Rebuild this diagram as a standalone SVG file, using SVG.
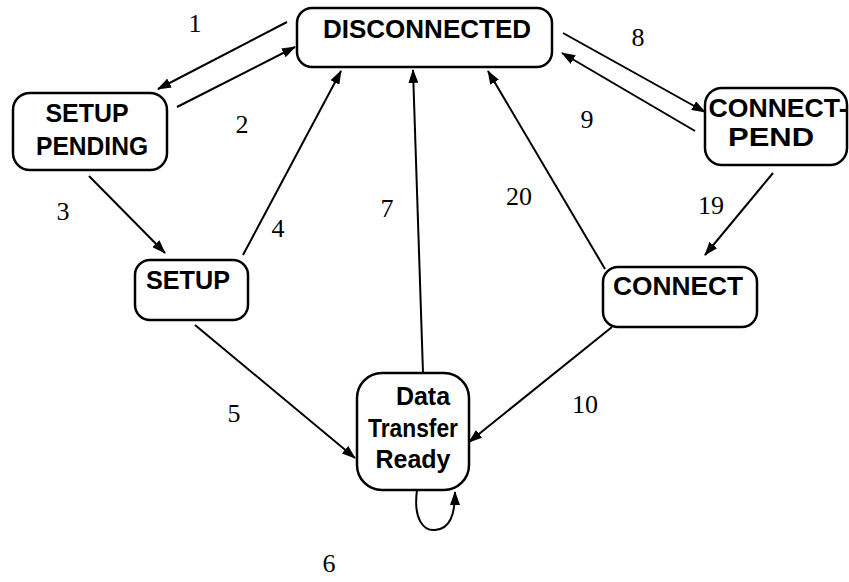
<svg xmlns="http://www.w3.org/2000/svg" width="849" height="582" viewBox="0 0 849 582">
<style>
.box{fill:#fff;stroke:#000;stroke-width:2.5}
.nt{font-family:"Liberation Sans",Arial,sans-serif;font-weight:bold;font-size:25px;text-anchor:middle;fill:#000}
.lb{font-family:"Liberation Serif","Times New Roman",serif;font-size:26px;text-anchor:middle;fill:#000}
.edge{fill:none;stroke:#000;stroke-width:2}
</style>
<defs>
<marker id="ah" viewBox="0 0 14 10" refX="13" refY="5" markerWidth="14" markerHeight="10" markerUnits="userSpaceOnUse" orient="auto">
<path d="M0,0 L14,5 L0,10 Z" fill="#000"/>
</marker>
</defs>
<g id="connectors">
<line class="edge" x1="287" y1="22" x2="158" y2="89" marker-end="url(#ah)"/>
<line class="edge" x1="177" y1="107" x2="295" y2="47" marker-end="url(#ah)"/>
<line class="edge" x1="89" y1="176" x2="165" y2="253" marker-end="url(#ah)"/>
<line class="edge" x1="243" y1="255" x2="341" y2="71" marker-end="url(#ah)"/>
<line class="edge" x1="423" y1="373" x2="413" y2="70" marker-end="url(#ah)"/>
<line class="edge" x1="605" y1="269" x2="488" y2="71" marker-end="url(#ah)"/>
<line class="edge" x1="563" y1="33" x2="705" y2="112" marker-end="url(#ah)"/>
<line class="edge" x1="695" y1="131" x2="562" y2="53" marker-end="url(#ah)"/>
<line class="edge" x1="773" y1="173" x2="705" y2="255" marker-end="url(#ah)"/>
<line class="edge" x1="195" y1="325" x2="355" y2="458" marker-end="url(#ah)"/>
<line class="edge" x1="612" y1="327" x2="469" y2="442" marker-end="url(#ah)"/>
<path class="edge" d="M417,490 C413,520 424,531 435,530 C450,529 455,515 455,492" marker-end="url(#ah)"/>
</g>
<g id="labels">
<text class="lb" x="195" y="32">1</text>
<text class="lb" x="242" y="133">2</text>
<text class="lb" x="63" y="220">3</text>
<text class="lb" x="278" y="237">4</text>
<text class="lb" x="234" y="422">5</text>
<text class="lb" x="329" y="572">6</text>
<text class="lb" x="387" y="217">7</text>
<text class="lb" x="638" y="46">8</text>
<text class="lb" x="587" y="128">9</text>
<text class="lb" x="585" y="413">10</text>
<text class="lb" x="711" y="214">19</text>
<text class="lb" x="519" y="205">20</text>
</g>
<g id="disconnected">
<rect class="box" x="297" y="8" width="255" height="59" rx="15"/>
<text class="nt" x="427" y="38" textLength="208" lengthAdjust="spacingAndGlyphs">DISCONNECTED</text>
</g>
<g id="setup-pending">
<rect class="box" x="13" y="93" width="154" height="77" rx="17"/>
<text class="nt" x="87" y="122" textLength="83" lengthAdjust="spacingAndGlyphs">SETUP</text>
<text class="nt" x="92" y="155" textLength="112" lengthAdjust="spacingAndGlyphs">PENDING</text>
</g>
<g id="connect-pend">
<rect class="box" x="705" y="88" width="142" height="77" rx="17"/>
<text class="nt" x="778" y="117" textLength="139" lengthAdjust="spacingAndGlyphs">CONNECT-</text>
<text class="nt" x="771" y="146" textLength="86" lengthAdjust="spacingAndGlyphs">PEND</text>
</g>
<g id="setup">
<rect class="box" x="135" y="260" width="113" height="60" rx="15"/>
<text class="nt" x="188" y="289" textLength="84" lengthAdjust="spacingAndGlyphs">SETUP</text>
</g>
<g id="connect">
<rect class="box" x="603" y="267" width="154" height="60" rx="15"/>
<text class="nt" x="678" y="295" textLength="130" lengthAdjust="spacingAndGlyphs">CONNECT</text>
</g>
<g id="data-transfer-ready">
<rect class="box" x="357" y="373" width="112" height="117" rx="25"/>
<text class="nt" x="423" y="405">Data</text>
<text class="nt" x="413" y="437" textLength="90" lengthAdjust="spacingAndGlyphs">Transfer</text>
<text class="nt" x="413" y="468">Ready</text>
</g>
</svg>
